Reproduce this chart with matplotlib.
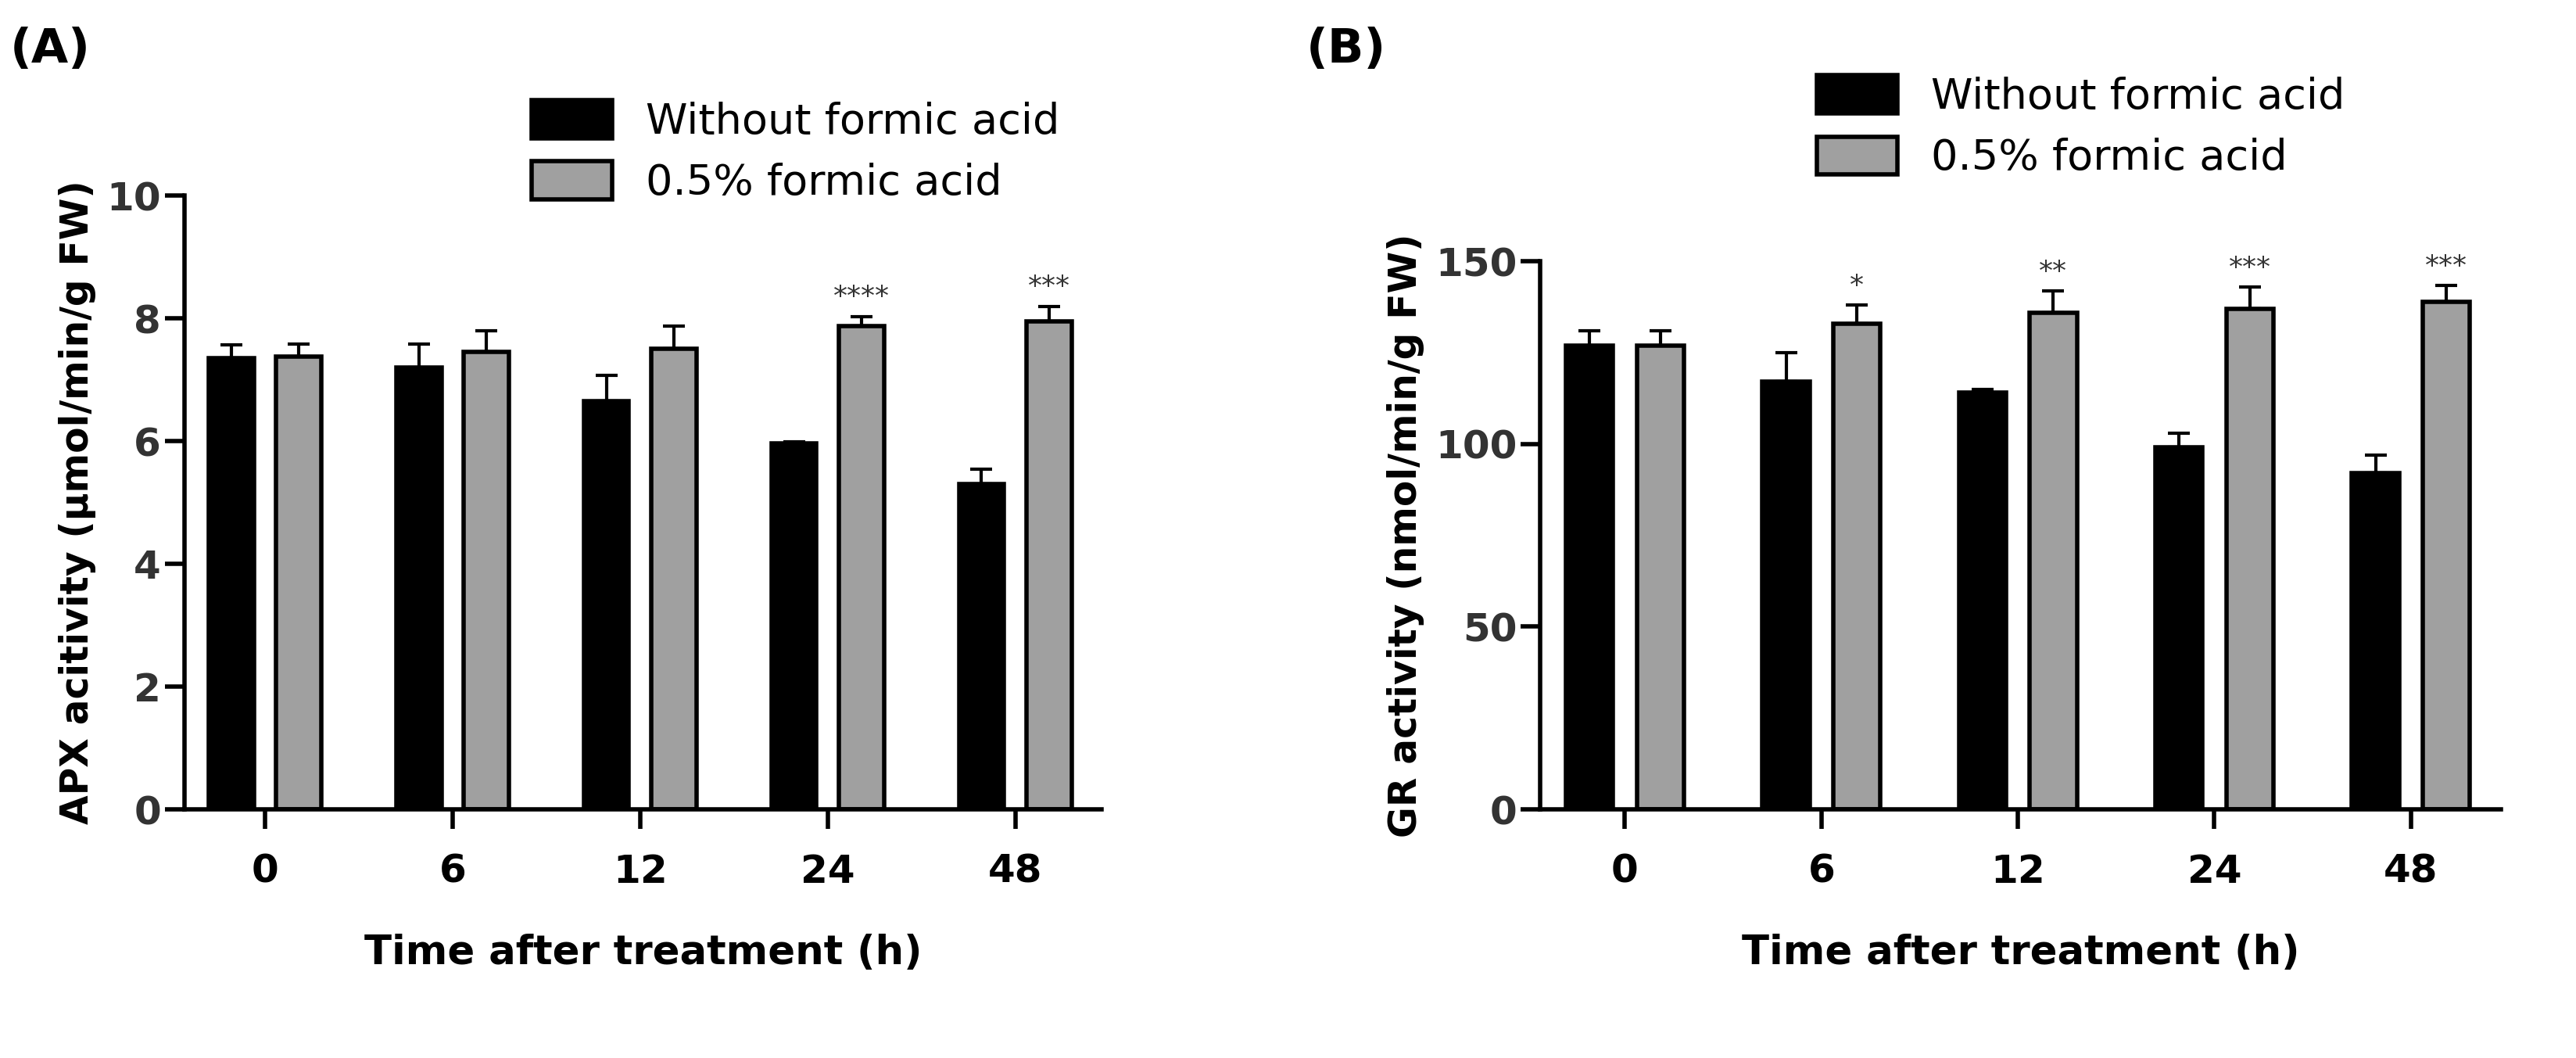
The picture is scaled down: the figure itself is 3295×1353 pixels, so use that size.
import matplotlib
matplotlib.use("Agg")
import matplotlib.pyplot as plt
import numpy as np

times = ["0", "6", "12", "24", "48"]
apx_ctrl = [7.35, 7.2, 6.65, 5.97, 5.3]
apx_ctrl_err = [0.22, 0.38, 0.42, 0.02, 0.25]
apx_fa = [7.38, 7.45, 7.5, 7.88, 7.95]
apx_fa_err = [0.2, 0.35, 0.38, 0.15, 0.25]
apx_sig = ["", "", "", "****", "***"]

gr_ctrl = [127, 117, 114, 99, 92]
gr_ctrl_err = [4, 8, 1, 4, 5]
gr_fa = [127, 133, 136, 137, 139]
gr_fa_err = [4, 5, 6, 6, 4.5]
gr_sig = ["", "*", "**", "***", "***"]

W, H = 3295, 1353
fig = plt.figure(figsize=(W/100, H/100), dpi=100)
plt.rcParams['font.family'] = ['DejaVu Sans']

def panel(rect, ctrl, cerr, fa, ferr, sig, ylim, yticks, ylabel, legpos, starpad):
    ax = fig.add_axes(rect)
    x = np.arange(len(times))
    w = 0.24; off = 0.18
    lw = 4
    ax.bar(x-off, ctrl, w, color="black", edgecolor="black", linewidth=lw,
           label="Without formic acid", zorder=2)
    ax.errorbar(x-off, ctrl, yerr=[np.zeros(5), cerr], fmt="none", ecolor="black",
                elinewidth=3, capsize=10, capthick=3, zorder=1)
    ax.bar(x+off, fa, w, color="#a0a0a0", edgecolor="black", linewidth=lw,
           label="0.5% formic acid", zorder=2)
    ax.errorbar(x+off, fa, yerr=[np.zeros(5), ferr], fmt="none", ecolor="black",
                elinewidth=3, capsize=10, capthick=3, zorder=1)
    for xi, v, e, s in zip(x, fa, ferr, sig):
        if s:
            ax.text(xi+off, v+e+starpad, s, ha="center", va="bottom", fontsize=26, color="#333333")
    ax.set_xlim(-0.43, 4.46)
    ax.set_ylim(*ylim)
    ax.set_yticks(yticks)
    ax.set_xticks(x)
    ax.set_xticklabels(times)
    for sp in ["top", "right"]:
        ax.spines[sp].set_visible(False)
    for sp in ["left", "bottom"]:
        ax.spines[sp].set_linewidth(4)
    ax.tick_params(axis="both", width=4, length=18, labelsize=36, direction="out")
    ax.tick_params(axis="x", pad=22)
    for t in ax.get_xticklabels() + ax.get_yticklabels():
        t.set_fontweight("bold")
    for t in ax.get_yticklabels():
        t.set_color("#333333")
    ax.set_ylabel(ylabel, fontsize=35, fontweight="bold", labelpad=10)
    ax.set_xlabel("Time after treatment (h)", fontsize=37, fontweight="bold", labelpad=40)
    ax.legend(loc="lower left", bbox_to_anchor=legpos, frameon=False, fontsize=39,
              handlelength=1.9, handleheight=1.0, labelspacing=0.45, borderaxespad=0)
    return ax

panel([0.0716, 0.235, 0.356, 0.58], apx_ctrl, apx_ctrl_err, apx_fa, apx_fa_err, apx_sig,
      (0, 10), [0, 2, 4, 6, 8, 10], "APX acitivity (μmol/min/g FW)", (0.36, 0.96), 0.1)
panel([0.598, 0.235, 0.373, 0.518], gr_ctrl, gr_ctrl_err, gr_fa, gr_fa_err, gr_sig,
      (0, 150), [0, 50, 100, 150], "GR activity (nmol/min/g FW)", (0.27, 1.12), 1.5)

fig.text(0.004, 0.975, "(A)", fontsize=44, fontweight="bold", va="top")
fig.text(0.507, 0.975, "(B)", fontsize=44, fontweight="bold", va="top")
fig.savefig("out.png", dpi=100)
